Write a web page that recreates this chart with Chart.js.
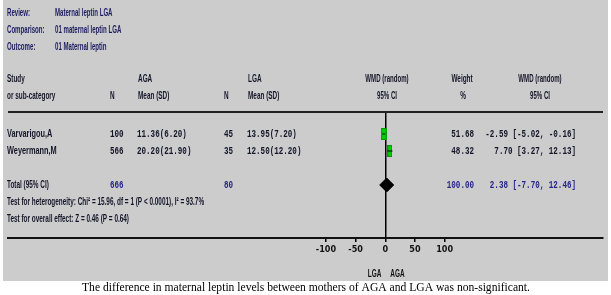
<!DOCTYPE html>
<html lang="en">
<head>
<meta charset="UTF-8">
<title>Maternal leptin LGA</title>
<script src="https://cdn.jsdelivr.net/npm/chart.js"></script>
<style>
  html, body { margin: 0; padding: 0; background: #fff; }
  canvas { display: block; }
</style>
</head>
<body>
<canvas id="myChart" width="611" height="295"></canvas>
<script>
// datos del forest plot
const studies = ['Varvarigou,A', 'Weyermann,M'];
const agaN = [100, 566];
const agaMean = [11.36, 20.20];
const agaSD = [6.20, 21.90];
const lgaN = [45, 35];
const lgaMean = [13.95, 12.50];
const lgaSD = [7.20, 12.20];
const weights = [51.68, 48.32];
const wmd = [-2.59, 7.70];
const ciLow = [-5.02, 3.27];
const ciHigh = [-0.16, 12.13];
const studyRows = [1, 2];

const totalRow = 4;
const totalN = [666, 80];
const totalWeight = 100.00;
const totalWmd = 2.38;
const totalCi = [-7.70, 12.46];

const xTicks = [-100, -50, 0, 50, 100];

const heterogeneity = 'Test for heterogeneity: Chi\u00b2 = 15.96, df = 1 (P < 0.0001), I\u00b2 = 93.7%';
const overallEffect = 'Test for overall effect: Z = 0.46 (P = 0.64)';
const caption = 'The difference in maternal leptin levels between mothers of AGA and LGA was non-significant.';

const NARROW = 'bold 10.5px "Liberation Sans", Arial, sans-serif';
const MONO = 'bold 10.5px "Liberation Mono", "DejaVu Sans Mono", monospace';

function txt(ctx, s, x, y, font, color, align, sx) {
    ctx.save();
    ctx.font = font;
    ctx.fillStyle = color;
    ctx.textBaseline = 'middle';
    ctx.textAlign = align || 'left';
    ctx.translate(x, y);
    ctx.scale(sx || 1, 1);
    ctx.fillText(s, 0, 0);
    ctx.restore();
}

// cuadrados verdes segun el peso
function squareFor(w) {
    const c = document.createElement('canvas');
    const wd = Math.round(5.5 * Math.sqrt(w / 50));
    const ht = 12;
    c.width = wd; c.height = ht;
    const g = c.getContext('2d');
    g.fillStyle = '#00cc00';
    g.fillRect(0, 0, wd, ht);
    g.strokeStyle = '#009a00';
    g.lineWidth = 1;
    g.strokeRect(0.5, 0.5, wd - 1, ht - 1);
    return c;
}

const fmt = v => v.toFixed(2);

const forestText = {
    id: 'forestText',
    beforeDraw(chart) {
        const ctx = chart.ctx;
        ctx.save();
        ctx.fillStyle = '#cccccc';
        ctx.fillRect(3, 0, 605, 281);
        ctx.restore();
    },
    afterDraw(chart) {
        const ctx = chart.ctx;
        const a = chart.chartArea;
        const ys = chart.scales.y;
        const xs = chart.scales.x;
        const navy = '#1c1c60';
        const dark = '#15152a';
        const blue = '#26268a';
        const SX = 0.61, HX = 0.58, NX = 0.7, MX = 0.72;

        // cabecera
        txt(ctx, 'Review:', 7, 13, NARROW, navy, 'left', HX);
        txt(ctx, 'Maternal leptin LGA', 55, 13, NARROW, navy, 'left', HX);
        txt(ctx, 'Comparison:', 7, 30, NARROW, navy, 'left', HX);
        txt(ctx, '01 maternal leptin LGA', 55, 30, NARROW, navy, 'left', HX);
        txt(ctx, 'Outcome:', 7, 47, NARROW, navy, 'left', HX);
        txt(ctx, '01 Maternal leptin', 55, 47, NARROW, navy, 'left', HX);

        // columnas
        txt(ctx, 'Study', 7, 79, NARROW, dark, 'left', SX);
        txt(ctx, 'or sub-category', 7, 96, NARROW, dark, 'left', SX);
        txt(ctx, 'N', 110, 96, NARROW, dark, 'left', SX);
        txt(ctx, 'AGA', 138, 79, NARROW, dark, 'left', SX);
        txt(ctx, 'Mean (SD)', 138, 96, NARROW, dark, 'left', SX);
        txt(ctx, 'N', 224, 96, NARROW, dark, 'left', SX);
        txt(ctx, 'LGA', 248, 79, NARROW, dark, 'left', SX);
        txt(ctx, 'Mean (SD)', 248, 96, NARROW, dark, 'left', SX);
        txt(ctx, 'WMD (random)', 387, 79, NARROW, dark, 'center', HX);
        txt(ctx, '95% CI', 387, 96, NARROW, dark, 'center', HX);
        txt(ctx, 'Weight', 462, 79, NARROW, dark, 'center', SX);
        txt(ctx, '%', 463, 96, NARROW, dark, 'center', SX);
        txt(ctx, 'WMD (random)', 540, 79, NARROW, dark, 'center', HX);
        txt(ctx, '95% CI', 540, 96, NARROW, dark, 'center', HX);

        // linea superior
        ctx.save();
        ctx.strokeStyle = '#222';
        ctx.lineWidth = 2;
        ctx.beginPath();
        ctx.moveTo(a.left, a.top);
        ctx.lineTo(a.right, a.top);
        ctx.stroke();
        ctx.restore();

        // filas de estudios
        studies.forEach((s, i) => {
            const y = ys.getPixelForValue(studyRows[i]);
            txt(ctx, s, 7, y, NARROW, dark, 'left', NX);
            txt(ctx, String(agaN[i]), 110, y, MONO, dark, 'left', MX);
            txt(ctx, fmt(agaMean[i]) + '(' + fmt(agaSD[i]) + ')', 137, y, MONO, dark, 'left', MX);
            txt(ctx, String(lgaN[i]), 224, y, MONO, dark, 'left', MX);
            txt(ctx, fmt(lgaMean[i]) + '(' + fmt(lgaSD[i]) + ')', 247, y, MONO, dark, 'left', MX);
            txt(ctx, fmt(weights[i]), 474, y, MONO, dark, 'right', MX);
            txt(ctx, fmt(wmd[i]) + ' [' + fmt(ciLow[i]) + ', ' + fmt(ciHigh[i]) + ']', 576, y, MONO, dark, 'right', MX);
        });

        // total
        const ty = ys.getPixelForValue(totalRow);
        txt(ctx, 'Total (95% CI)', 7, ty, NARROW, dark, 'left', SX);
        txt(ctx, String(totalN[0]), 110, ty, MONO, blue, 'left', MX);
        txt(ctx, String(totalN[1]), 224, ty, MONO, blue, 'left', MX);
        txt(ctx, fmt(totalWeight), 474, ty, MONO, blue, 'right', MX);
        txt(ctx, fmt(totalWmd) + ' [' + fmt(totalCi[0]) + ', ' + fmt(totalCi[1]) + ']', 576, ty, MONO, blue, 'right', MX);
        txt(ctx, heterogeneity, 7, ys.getPixelForValue(totalRow + 1), NARROW, dark, 'left', SX);
        txt(ctx, overallEffect, 7, ys.getPixelForValue(totalRow + 2), NARROW, dark, 'left', SX);

        // etiquetas LGA / AGA
        const x0 = xs.getPixelForValue(0);
        txt(ctx, 'LGA', x0 - 4, 274, NARROW, '#111', 'right', SX);
        txt(ctx, 'AGA', x0 + 5, 274, NARROW, '#111', 'left', SX);

        // pie de figura
        txt(ctx, caption, 306, 288, '11.6px "Liberation Serif", "Times New Roman", serif', '#000', 'center', 1);
    }
};

const ctx = document.getElementById('myChart').getContext('2d');
const myChart = new Chart(ctx, {
    type: 'scatter',
    data: {
        datasets: [
            ...studies.map((s, i) => ({
                type: 'line',
                data: [{ x: ciLow[i], y: studyRows[i] }, { x: ciHigh[i], y: studyRows[i] }],
                borderColor: '#000',
                borderWidth: 1,
                pointRadius: 0,
                order: 0
            })),
            {
                data: wmd.map((v, i) => ({ x: v, y: studyRows[i] })),
                pointStyle: weights.map(w => squareFor(w)),
                order: 1
            },
            {
                data: [{ x: totalWmd, y: totalRow }],
                pointStyle: 'rectRot',
                pointRadius: 7,
                backgroundColor: '#000',
                borderColor: '#000',
                borderWidth: 1,
                order: 1
            }
        ]
    },
    options: {
        responsive: false,
        animation: false,
        events: [],
        layout: { padding: { left: 7, right: 6, top: 112, bottom: 0 } },
        plugins: { legend: { display: false }, tooltip: { enabled: false } },
        scales: {
            x: {
                type: 'linear',
                min: -636,
                max: 367,
                afterBuildTicks: scale => { scale.ticks = xTicks.map(v => ({ value: v })); },
                afterFit: scale => { scale.height = 57; },
                border: { display: true, color: '#111', width: 2 },
                grid: {
                    color: c => (c.tick && c.tick.value === 0 ? '#000' : 'rgba(0,0,0,0)'),
                    lineWidth: 1.5,
                    tickColor: '#000',
                    tickLength: 4
                },
                ticks: {
                    color: '#111',
                    padding: 2,
                    font: { family: '"Liberation Sans Narrow", "DejaVu Sans Condensed", sans-serif', size: 9, weight: 'bold' }
                }
            },
            y: {
                type: 'linear',
                reverse: true,
                min: -0.294,
                max: 7.118,
                display: false
            }
        }
    },
    plugins: [forestText]
});
</script>
</body>
</html>
